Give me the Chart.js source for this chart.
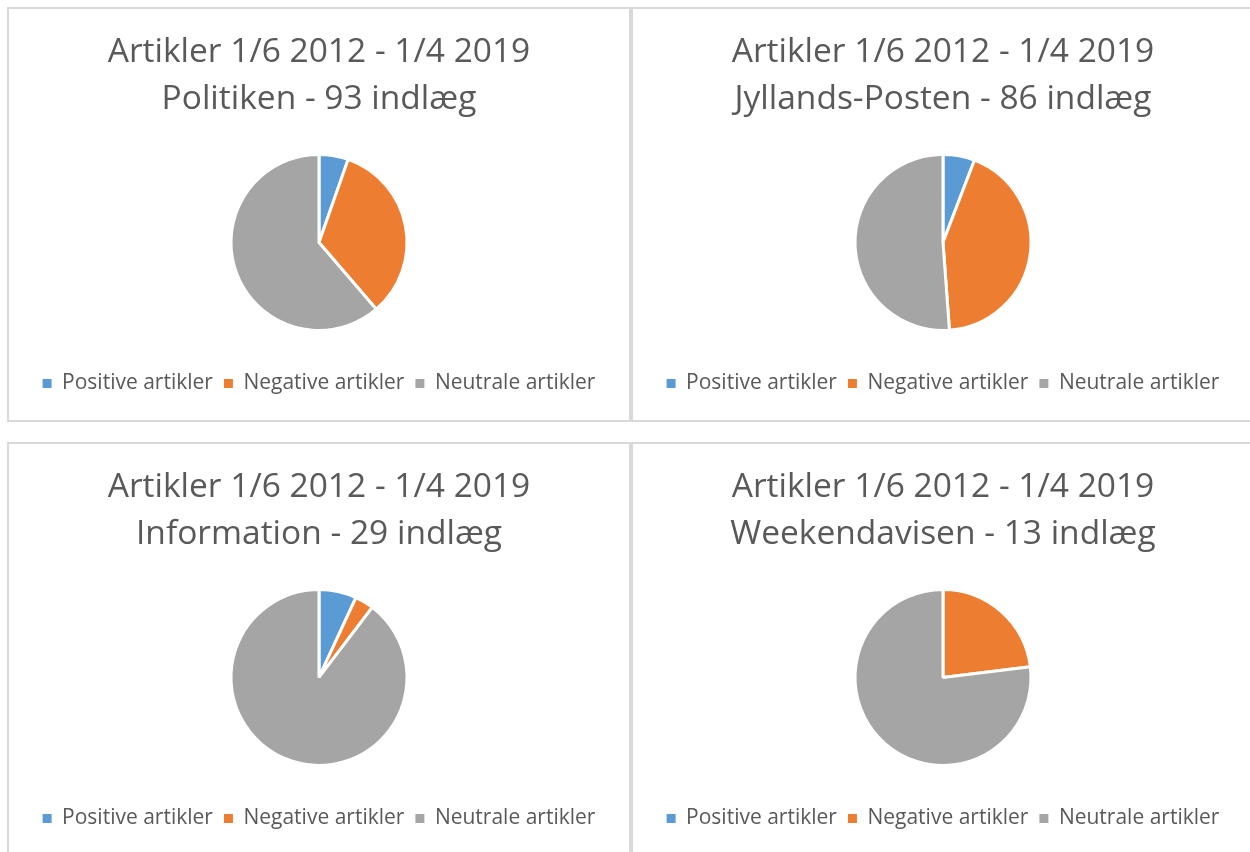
<!DOCTYPE html>
<html>
<head>
<meta charset="utf-8">
<script src="https://cdn.jsdelivr.net/npm/chart.js@4.4.1/dist/chart.umd.min.js"></script>
<style>
  html, body { margin: 0; padding: 0; background: #fff; overflow: hidden; width: 1250px; height: 852px; }
  .panel { position: absolute; width: 624px; height: 415px; border: 2px solid #d9d9d9; box-sizing: border-box; background: #fff; }
  .panel canvas { display: block; }
</style>
</head>
<body>
<div class="panel" style="left:7px; top:7px;"><canvas id="c0"></canvas></div>
<div class="panel" style="left:631px; top:7px;"><canvas id="c1"></canvas></div>
<div class="panel" style="left:7px; top:442px;"><canvas id="c2"></canvas></div>
<div class="panel" style="left:631px; top:442px;"><canvas id="c3"></canvas></div>
<script>
// data
const kategorier = ['Positive artikler', 'Negative artikler', 'Neutrale artikler']
const aviser = ['Politiken', 'Jyllands-Posten', 'Information', 'Weekendavisen']
const antalIndlaeg = [93, 86, 29, 13]
const positive = [5, 5, 2, 0]
const negative = [31, 37, 1, 3]
const neutrale = [57, 44, 26, 10]
const periode = 'Artikler 1/6 2012 - 1/4 2019'

const farver = ['#5B9BD5', '#ED7D31', '#A5A5A5']
const tekstFarve = '#595959'
const skrift = "'Open Sans', 'Noto Sans', sans-serif"

function lavGraf(i) {
  const ctx = document.getElementById('c' + i).getContext('2d')
  ctx.canvas.width = 620
  ctx.canvas.height = 411
  const standardLabels = Chart.overrides.pie.plugins.legend.labels.generateLabels
  new Chart(ctx, {
    type: 'pie',
    data: {
      labels: kategorier,
      datasets: [{
        data: [positive[i], negative[i], neutrale[i]],
        backgroundColor: farver,
        borderColor: '#ffffff',
        borderWidth: 3
      }]
    },
    options: {
      responsive: false,
      animation: false,
      radius: 88,
      layout: { padding: { top: 20, bottom: 16 } },
      plugins: {
        title: {
          display: true,
          text: [periode, aviser[i] + ' - ' + antalIndlaeg[i] + ' indlæg'],
          color: tekstFarve,
          font: { family: skrift, size: 33.5, weight: 'normal', lineHeight: 1.4 },
          padding: { top: 0, bottom: 0 }
        },
        legend: {
          position: 'bottom',
          labels: {
            color: tekstFarve,
            boxWidth: 9,
            boxHeight: 9,
            padding: 11,
            font: { family: skrift, size: 21 },
            // ingen hvid kant rundt om legend-firkanterne
            generateLabels: chart => standardLabels(chart).map(l => ({ ...l, lineWidth: 0, hidden: false }))
          }
        },
        tooltip: { enabled: false }
      }
    }
  })
}

window.onload = () => aviser.forEach((a, i) => lavGraf(i))
</script>
</body>
</html>
